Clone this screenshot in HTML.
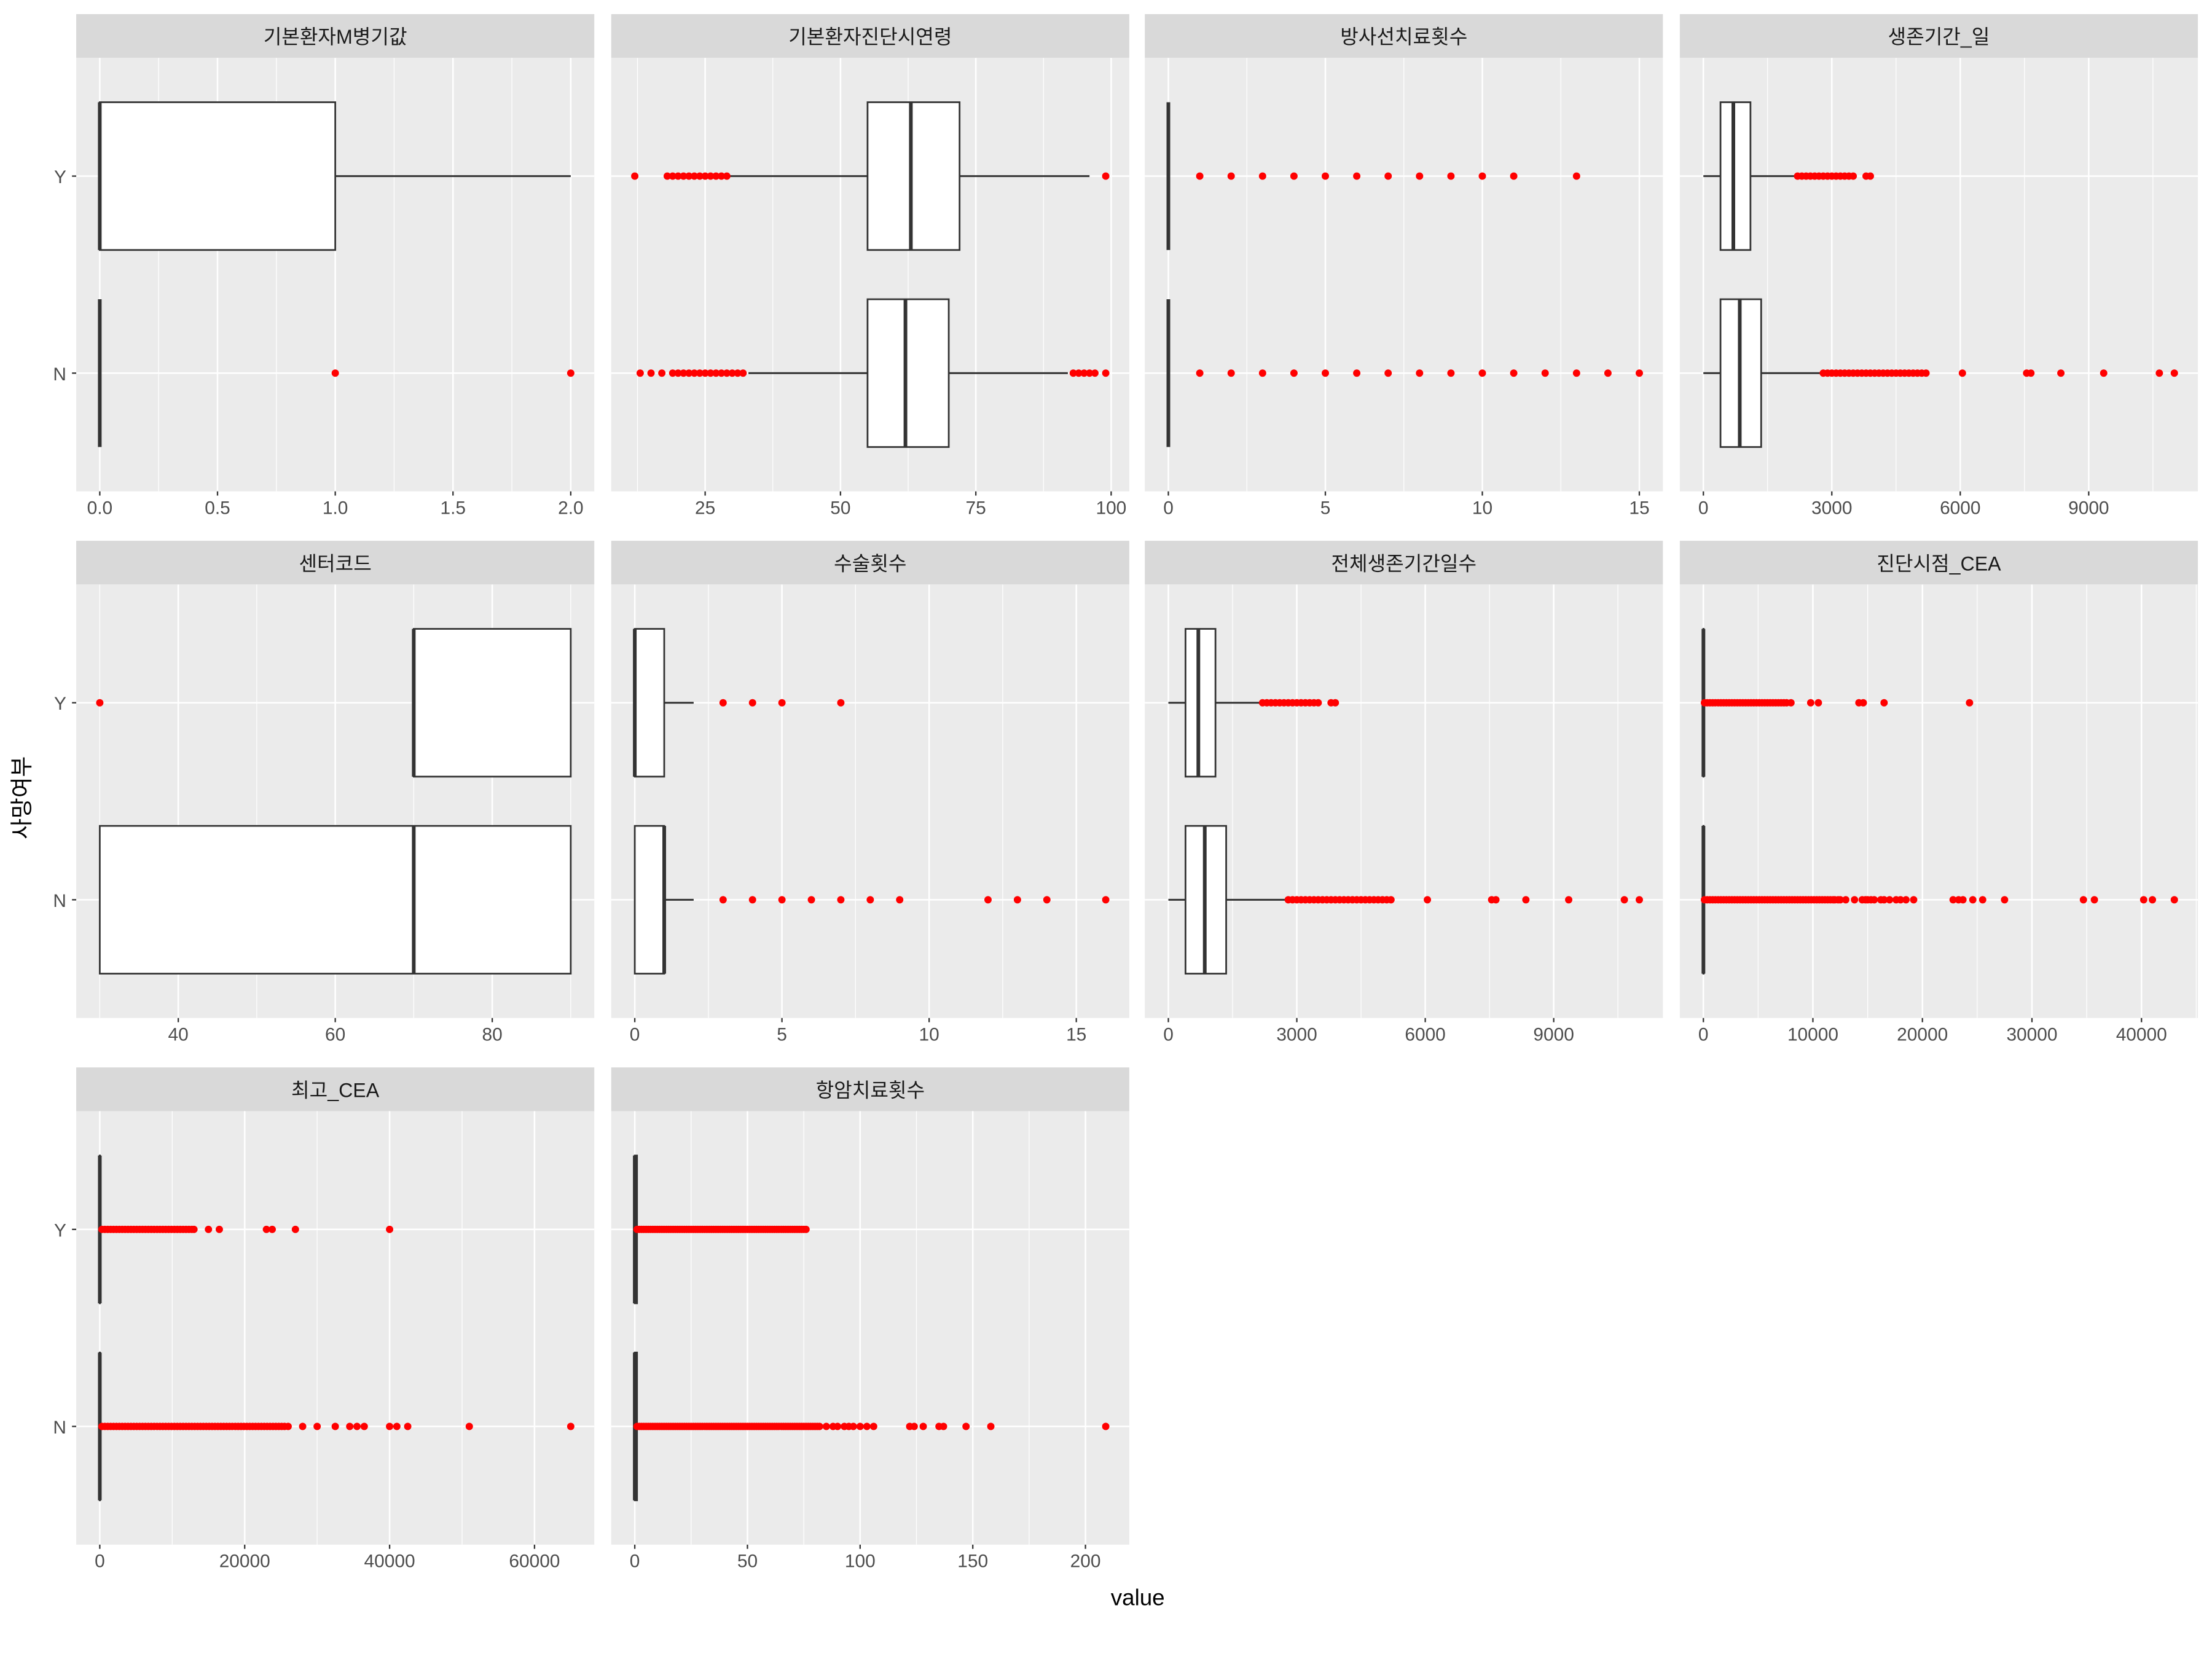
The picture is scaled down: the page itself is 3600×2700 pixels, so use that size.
<!DOCTYPE html>
<html><head><meta charset="utf-8">
<style>
html,body{margin:0;padding:0;background:#fff;}
svg{display:block;}
text{font-family:"Liberation Sans","Noto Sans CJK KR",sans-serif;}
</style></head>
<body>
<svg id="chart" width="3600" height="2700" viewBox="0 0 1567 1175" preserveAspectRatio="none" xmlns="http://www.w3.org/2000/svg">
<rect x="0" y="0" width="1567" height="1175" fill="#ffffff"/>
<g id="panels"></g>
<text x="806" y="1137" font-size="16" text-anchor="middle" fill="#000">value</text>
<text transform="translate(21,565) rotate(-90)" font-size="16" text-anchor="middle" fill="#000">사망여부</text>
</svg>
<script>
const panelNames = ["기본환자M병기값","기본환자진단시연령","방사선치료횟수","생존기간_일","센터코드","수술횟수","전체생존기간일수","진단시점_CEA","최고_CEA","항암치료횟수"];
const categories = ["Y","N"];
// box stats: [lowWhisker, q1, median, q3, highWhisker]
const statsY = [
 [0,0,0,1,2],[29.5,55,63,72,96],[0,0,0,0,0],[0,400,700,1100,2150],[70,70,70,90,90],
 [0,0,0,1,2],[0,400,700,1100,2150],[0,0,5,20,60],[0,0,5,20,60],[0,0,0,1,2]];
const statsN = [
 [0,0,0,0,0],[33,55,62,70,92],[0,0,0,0,0],[0,400,850,1350,2750],[30,30,70,90,90],
 [0,0,1,1,2],[0,400,850,1350,2750],[0,0,5,20,60],[0,0,5,20,60],[0,0,0,1,2]];
const outY = [
 [],
 [12,18,19,20,21,22,23,24,25,26,27,28,29,99],
 [1,2,3,4,5,6,7,8,9,10,11,13],
 [2200,2300,2400,2500,2600,2700,2800,2900,3000,3100,3200,3300,3400,3500,3800,3900],
 [30],
 [3,4,5,7],
 [2200,2300,2400,2500,2600,2700,2800,2900,3000,3100,3200,3300,3400,3500,3800,3900],
 [100,350,600,850,1100,1350,1600,1850,2100,2350,2600,2850,3100,3350,3600,3850,4100,4350,4600,4850,5100,5350,5600,5850,6100,6350,6600,6850,7100,7350,7600,8000,9800,10500,14200,14600,16500,24300],
 [300,700,1100,1500,1900,2300,2700,3100,3500,3900,4300,4700,5100,5500,5900,6300,6700,7100,7500,7900,8300,8700,9100,9500,9900,10300,10700,11100,11500,11900,12300,12700,13000,15000,16500,23000,23800,27000,40000],
 [1,2,3,4,5,6,7,8,9,10,11,12,13,14,15,16,17,18,19,20,21,22,23,24,25,26,27,28,29,30,31,32,33,34,35,36,37,38,39,40,41,42,43,44,45,46,47,48,49,50,51,52,53,54,55,56,57,58,59,60,61,62,63,64,65,66,67,68,69,70,71,72,73,74,75,76]];
const outN = [
 [1,2],
 [13,15,17,19,20,21,22,23,24,25,26,27,28,29,30,31,32,93,94,95,96,97,99],
 [1,2,3,4,5,6,7,8,9,10,11,12,13,14,15],
 [2800,2900,3000,3100,3200,3300,3400,3500,3600,3700,3800,3900,4000,4100,4200,4300,4400,4500,4600,4700,4800,4900,5000,5100,5200,6050,7550,7650,8350,9350,10650,11000],
 [],
 [3,4,5,6,7,8,9,12,13,14,16],
 [2800,2900,3000,3100,3200,3300,3400,3500,3600,3700,3800,3900,4000,4100,4200,4300,4400,4500,4600,4700,4800,4900,5000,5100,5200,6050,7550,7650,8350,9350,10650,11000],
 [100,350,600,850,1100,1350,1600,1850,2100,2350,2600,2850,3100,3350,3600,3850,4100,4350,4600,4850,5100,5350,5600,5850,6100,6350,6600,6850,7100,7350,7600,7850,8100,8350,8600,8850,9100,9350,9600,9850,10100,10350,10600,10850,11100,11350,11600,11850,12000,12300,12500,13000,13800,14500,14800,15000,15300,15600,16200,16500,17000,17600,18000,18500,19200,22800,23300,23700,24600,25500,27500,34700,35700,40200,41000,43000],
 [300,700,1100,1500,1900,2300,2700,3100,3500,3900,4300,4700,5100,5500,5900,6300,6700,7100,7500,7900,8300,8700,9100,9500,9900,10300,10700,11100,11500,11900,12300,12700,13100,13500,13900,14300,14700,15100,15500,15900,16300,16700,17100,17500,17900,18300,18700,19100,19500,19900,20300,20700,21100,21500,21900,22300,22700,23100,23500,23900,24300,24700,25100,25500,26000,28000,30000,32500,34500,35500,36500,40000,41000,42500,51000,65000],
 [1,2,3,4,5,6,7,8,9,10,11,12,13,14,15,16,17,18,19,20,21,22,23,24,25,26,27,28,29,30,31,32,33,34,35,36,37,38,39,40,41,42,43,44,45,46,47,48,49,50,51,52,53,54,55,56,57,58,59,60,61,62,63,64,65,66,67,68,69,70,71,72,73,74,75,76,77,78,79,80,81,82,85,88,90,93,95,97,100,103,106,122,124,128,135,137,147,158,209]];
const tickLabels = [
 ["0.0","0.5","1.0","1.5","2.0"],["25","50","75","100"],["0","5","10","15"],["0","3000","6000","9000"],
 ["40","60","80"],["0","5","10","15"],["0","3000","6000","9000"],["0","10000","20000","30000","40000"],
 ["0","20000","40000","60000"],["0","50","100","150","200"]];

const NS="http://www.w3.org/2000/svg";
const root=document.getElementById('panels');
function mk(tag,attrs,parent){const e=document.createElementNS(NS,tag);for(const k in attrs)e.setAttribute(k,attrs[k]);(parent||root).appendChild(e);return e;}
const colX=[54,433,811,1190], rowY=[10,383,756], PW=367, SH=31, PH=307;

panelNames.forEach((name,i)=>{
  const c=i%4, r=Math.floor(i/4);
  const x0=colX[c], sy=rowY[r], py=sy+SH;
  const g=mk('g',{});
  
  
  const strip=mk('rect',{x:x0,y:sy,width:PW,height:SH,fill:'#D9D9D9'},g);
  
  
  const st=mk('text',{x:x0+PW/2,y:sy+21,'font-size':14,'text-anchor':'middle',fill:'#1A1A1A'},g);
  st.textContent=name;
  
  
  mk('rect',{x:x0,y:py,width:PW,height:PH,fill:'#EBEBEB'},g);
  const all=[].concat(statsY[i],statsN[i],outY[i],outN[i]);
  let mn=Math.min(...all), mx=Math.max(...all); if(mx===mn){mx=mn+1;}
  const pad=(mx-mn)*0.05; const d0=mn-pad, d1=mx+pad;
  const sx=v=>x0+(v-d0)/(d1-d0)*PW;
  const sc=k=>py+(k+1-0.4)/2.2*PH;
  const majors=tickLabels[i].map(Number);
  const step=majors.length>1?majors[1]-majors[0]:1;
  for(let m=majors[0]-step/2;m<=d1;m+=step){ if(m>=d0) mk('line',{x1:sx(m),x2:sx(m),y1:py,y2:py+PH,stroke:'#fff','stroke-width':0.55},g);}
  majors.forEach(v=>mk('line',{x1:sx(v),x2:sx(v),y1:py,y2:py+PH,stroke:'#fff','stroke-width':1.1},g));
  categories.forEach((cat,k)=>mk('line',{x1:x0,x2:x0+PW,y1:sc(k),y2:sc(k),stroke:'#fff','stroke-width':1.1},g));
  majors.forEach((v,j)=>{
    mk('line',{x1:sx(v),x2:sx(v),y1:py+PH,y2:py+PH+3,stroke:'#333','stroke-width':1},g);
    const t=mk('text',{x:sx(v),y:py+PH+16,'font-size':13,'text-anchor':'middle',fill:'#4D4D4D'},g);
    t.textContent=tickLabels[i][j];
    
    
  });
  if(c===0){
    categories.forEach((cat,k)=>{
      mk('line',{x1:x0-3,x2:x0,y1:sc(k),y2:sc(k),stroke:'#333','stroke-width':1},g);
      const t=mk('text',{x:x0-7,y:sc(k)+5,'font-size':13,'text-anchor':'end',fill:'#4D4D4D'},g);
      t.textContent=cat;
      
      
    });
  }
  [statsY[i],statsN[i]].forEach((s,k)=>{
    const cy=sc(k), h=PH/2.2*0.75;
    const bg=mk('g',{},g);
    
    
    mk('line',{x1:sx(s[0]),x2:sx(s[1]),y1:cy,y2:cy,stroke:'#333','stroke-width':1.3},bg);
    mk('line',{x1:sx(s[3]),x2:sx(s[4]),y1:cy,y2:cy,stroke:'#333','stroke-width':1.3},bg);
    mk('rect',{x:sx(s[1]),y:cy-h/2,width:Math.max(0,sx(s[3])-sx(s[1])),height:h,fill:'#fff',stroke:'#333','stroke-width':1.2},bg);
    mk('line',{x1:sx(s[2]),x2:sx(s[2]),y1:cy-h/2,y2:cy+h/2,stroke:'#333','stroke-width':2.6},bg);
  });
  [outY[i],outN[i]].forEach((arr,k)=>{
    arr.forEach(v=>{
      const p=mk('circle',{cx:sx(v),cy:sc(k),r:2.6,fill:'#FF0000'},g);
      
      
    });
  });
});
</script>
</body></html>
